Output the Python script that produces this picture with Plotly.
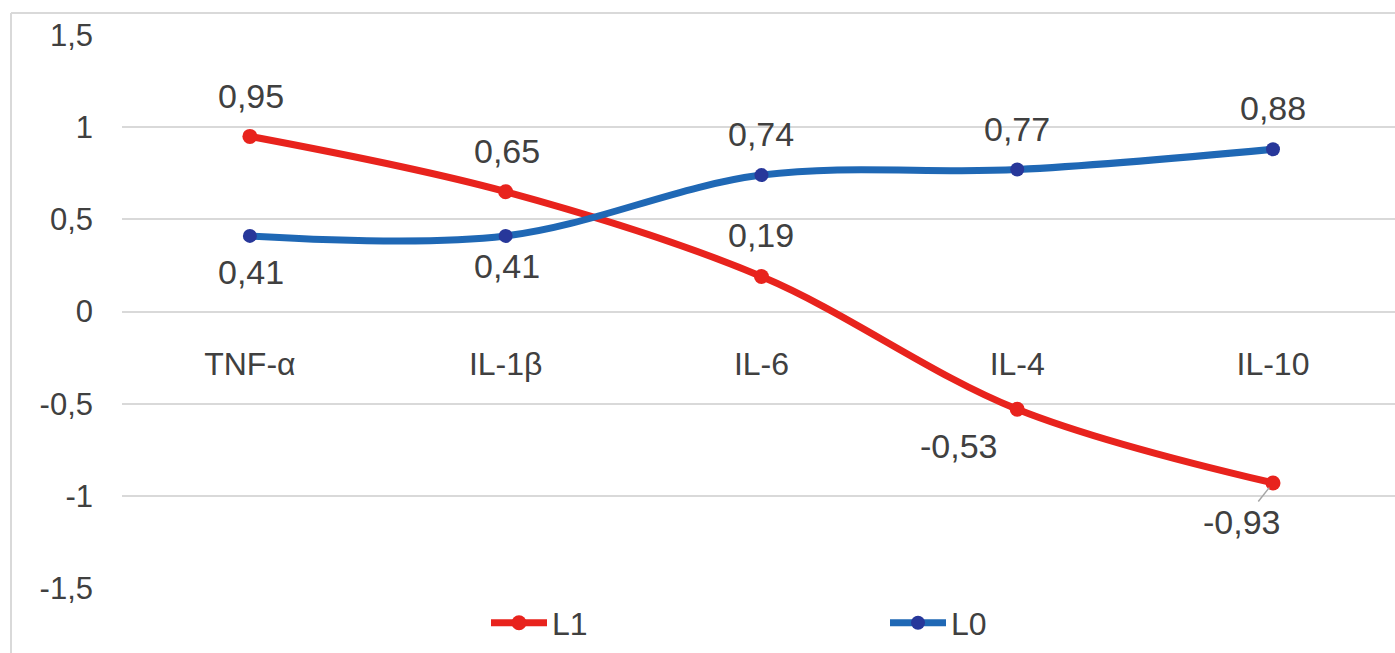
import plotly.graph_objects as go

# Cytokine correlation coefficients for two groups
categories = ["TNF-α", "IL-1β", "IL-6", "IL-4", "IL-10"]
l1_values = [0.95, 0.65, 0.19, -0.53, -0.93]
l0_values = [0.41, 0.41, 0.74, 0.77, 0.88]

y_tickvals = [1.5, 1, 0.5, 0, -0.5, -1, -1.5]
y_ticktext = ["1,5", "1", "0,5", "0", "-0,5", "-1", "-1,5"]

RED = "#e8231d"
BLUE = "#1f68b5"
BLUE_MARK = "#27379a"
TEXT = "#404040"
GRID = "#d9d9d9"
FONT = "Liberation Sans, Arial, sans-serif"


def fmt(v):
    return f"{v:.2f}".replace(".", ",")


fig = go.Figure()
fig.add_trace(go.Scatter(
    x=categories, y=l1_values, name="L1", mode="lines+markers",
    line=dict(color=RED, width=7, shape="spline", smoothing=1.0),
    marker=dict(color=RED, size=15),
))
fig.add_trace(go.Scatter(
    x=categories, y=l0_values, name="L0", mode="lines+markers",
    line=dict(color=BLUE, width=7, shape="spline", smoothing=1.0),
    marker=dict(color=BLUE_MARK, size=14),
))

# Data labels: (xshift, yshift) in pixels relative to each point
l1_shifts = [(1, 40), (1, 41), (0, 41), (-58, -37), None]
l0_shifts = [(1, -36), (1, -30), (0, 41), (0, 41), (0, 41)]

annotations = []
for cat, v, sh in zip(categories, l1_values, l1_shifts):
    if sh is None:
        # label with a short leader line back to the point
        annotations.append(dict(
            x=cat, y=v, text=fmt(v), showarrow=True, arrowhead=0,
            arrowcolor="#a6a6a6", arrowwidth=1.5, ax=-31, ay=39,
            standoff=6, font=dict(size=34, color=TEXT, family=FONT),
        ))
    else:
        annotations.append(dict(
            x=cat, y=v, text=fmt(v), showarrow=False,
            xshift=sh[0], yshift=sh[1],
            font=dict(size=34, color=TEXT, family=FONT),
        ))
for cat, v, sh in zip(categories, l0_values, l0_shifts):
    annotations.append(dict(
        x=cat, y=v, text=fmt(v), showarrow=False,
        xshift=sh[0], yshift=sh[1],
        font=dict(size=34, color=TEXT, family=FONT),
    ))

# Outer chart frame: only the left and top edges are visible
plot_w = 1395 - 122
plot_h = 653 - 35 - 65
fx0 = (11 - 122) / plot_w
fy0 = -(653 - 588) / plot_h - 0.02
fy1 = 1 + (35 - 13) / plot_h
shapes = [
    dict(type="line", xref="paper", yref="paper", x0=fx0, x1=fx0, y0=fy0, y1=fy1,
         line=dict(color=GRID, width=2), layer="below"),
    dict(type="line", xref="paper", yref="paper", x0=fx0, x1=1.02, y0=fy1, y1=fy1,
         line=dict(color=GRID, width=2), layer="below"),
]

fig.update_layout(
    width=1395, height=653,
    margin=dict(l=122, r=0, t=35, b=65),
    paper_bgcolor="white", plot_bgcolor="white",
    font=dict(family=FONT, color=TEXT, size=31),
    showlegend=True,
    legend=dict(
        orientation="h", x=(486 - 122) / plot_w, xanchor="left",
        y=-(623 - 588) / plot_h, yanchor="middle",
        font=dict(size=32, color=TEXT), entrywidth=328, itemwidth=56,
        bgcolor="rgba(0,0,0,0)",
    ),
    annotations=annotations,
    shapes=shapes,
    xaxis=dict(
        type="category", range=[-0.5, 4.477],
        anchor="free", position=0.5,
        showgrid=False, showline=False, zeroline=False,
        ticks="", ticklabelstandoff=30,
        tickfont=dict(size=32, color=TEXT, family=FONT),
    ),
    yaxis=dict(
        range=[-1.5, 1.5], tickvals=y_tickvals, ticktext=y_ticktext,
        showgrid=True, gridcolor=GRID, gridwidth=2,
        zeroline=False, showline=False, ticks="",
        ticklabelstandoff=28,
        tickfont=dict(size=31, color=TEXT, family=FONT),
    ),
)

fig.write_html("out.html")
